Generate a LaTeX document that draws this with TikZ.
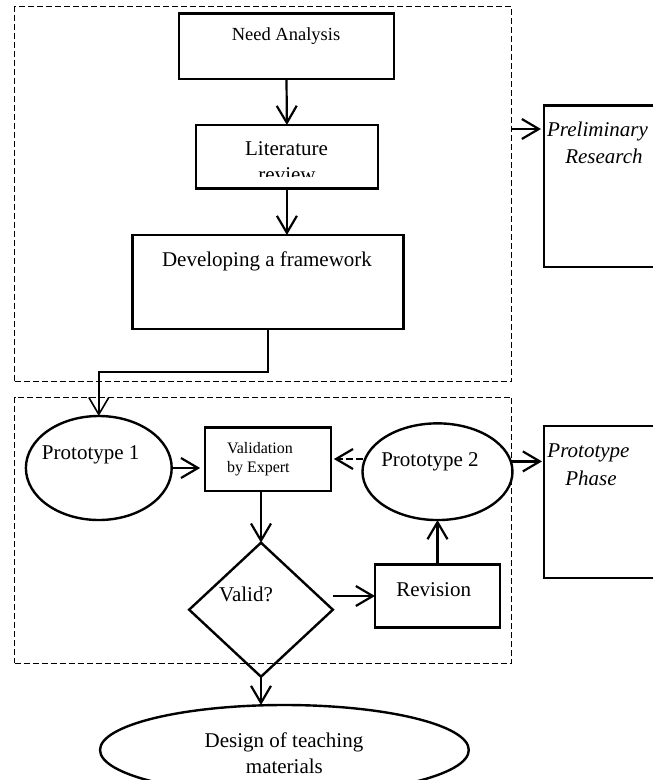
\documentclass[tikz,border=0pt]{standalone}
\usepackage{fontspec}
\setmainfont{Liberation Serif}
\usetikzlibrary{arrows.meta,positioning,shapes.geometric}
\tikzset{
  fc/.style={x=1pt, y=-1pt, >={Straight Barb[length=17pt, width=20pt]},
             every node/.style={inner sep=0pt, outer sep=0pt}},
  box/.style={draw, rectangle, line width=2.4pt},
  oval/.style={draw, ellipse, line width=2.4pt},
  ask/.style={draw, diamond, line width=2.4pt},
  frame/.style={draw, line width=0.9pt, dash pattern=on 6pt off 3pt},
  link/.style={->, line width=2.2pt},
  back/.style={->, line width=2.2pt, dash pattern=on 7pt off 3pt},
  txt/.style={font=\fontsize{21}{25}\selectfont, text height=14.5pt, text depth=0pt},
  phasetxt/.style={txt, font=\fontsize{21}{25}\selectfont\itshape}
}

\begin{document}
\begin{tikzpicture}[fc]
\useasboundingbox (0,0) rectangle (653,780);
% phase frames
\node[frame, minimum width=497.1pt, minimum height=375pt] (pre) at (263.15,194.2) {};
\node[frame, minimum width=497.1pt, minimum height=266pt] (pro) at (263.15,530.3) {};
% preliminary research
\node[box, minimum width=214.6pt, minimum height=65.4pt] (need) at (286.5,46) {};
\node[txt, font=\fontsize{18.5}{22}\selectfont, text height=12.5pt] (needt) at (286,34.5) {Need Analysis};
\node[box, minimum width=182pt, minimum height=63.7pt] (lit) at (286.9,156.8) {};
\node[txt] (litt) at (286.5,148) {Literature};
\begin{scope}
  \clip (lit.north west) rectangle (lit.east |- 0,176.5);
  \node[txt] (litr) at (287,174.5) {review};
\end{scope}
\node[box, minimum width=270.8pt, minimum height=94pt] (dev) at (267.9,282) {};
\node[txt] (devt) at (267,259) {Developing a framework};
\node[box, minimum width=156pt, minimum height=161.4pt] (prel) at (622,186) {};
\node[phasetxt] (prelt) at (597.5,129) {Preliminary};
\node[phasetxt] (prelr) at (604,156) {Research};
% prototype phase
\node[oval, minimum width=145.8pt, minimum height=104pt] (proto1) at (98.8,468) {};
\node[txt] (proto1t) at (90.7,452) {Prototype 1};
\node[box, minimum width=125.7pt, minimum height=63.4pt] (val) at (268,459) {};
\node[txt, font=\fontsize{16}{19}\selectfont, text height=11pt, anchor=west] (valt) at (227,448.3) {Validation};
\node[txt, font=\fontsize{16}{19}\selectfont, text height=11pt, anchor=west] (valb) at (227,466.5) {by Expert};
\node[oval, minimum width=150pt, minimum height=96.7pt] (proto2) at (437.5,471.7) {};
\node[txt] (proto2t) at (430,459.5) {Prototype 2};
\node[ask, minimum width=143.7pt, minimum height=134pt] (valid) at (261,609.7) {};
\node[txt] (validt) at (246,594) {Valid?};
\node[box, minimum width=125pt, minimum height=63.3pt] (rev) at (437.5,596) {};
\node[txt] (revt) at (433.7,589) {Revision};
\node[box, minimum width=156pt, minimum height=151.7pt] (phs) at (622,501.85) {};
\node[phasetxt] (phst) at (588.5,450.5) {Prototype};
\node[phasetxt] (phsp) at (591,478) {Phase};
% result
\node[oval, minimum width=368.8pt, minimum height=90pt] (design) at (284.4,750) {};
\node[txt] (designt) at (284,740) {Design of teaching};
\node[txt] (designm) at (284.4,766.7) {materials};
% connectors
\draw[link] (need.south) -- (lit.north);
\draw[link] (lit.south) -- (lit.south |- dev.north);
\draw[link, line width=1.6pt] (dev.south) -- ++(0,42.7) -| (proto1.north);
\draw[link] (pre.east |- prelt) -- ([xshift=-3pt]prel.west |- prelt);
\draw[link, shorten >=5pt] (proto1.east) -- (proto1.east -| val.west);
\draw[back, shorten >=3pt] (val.east -| proto2.west) -- (val.east);
\draw[link] (val.south -| valid.north) -- (valid.north);
\draw[link] (valid.east |- rev.west) -- (rev.west);
\draw[link] (rev.north) -- (proto2.south);
\draw[link, shorten >=2pt] (proto2.8) -- (proto2.8 -| phs.west);
\draw[link] (valid.south) -- (valid.south |- design.north);
\end{tikzpicture}
\end{document}
